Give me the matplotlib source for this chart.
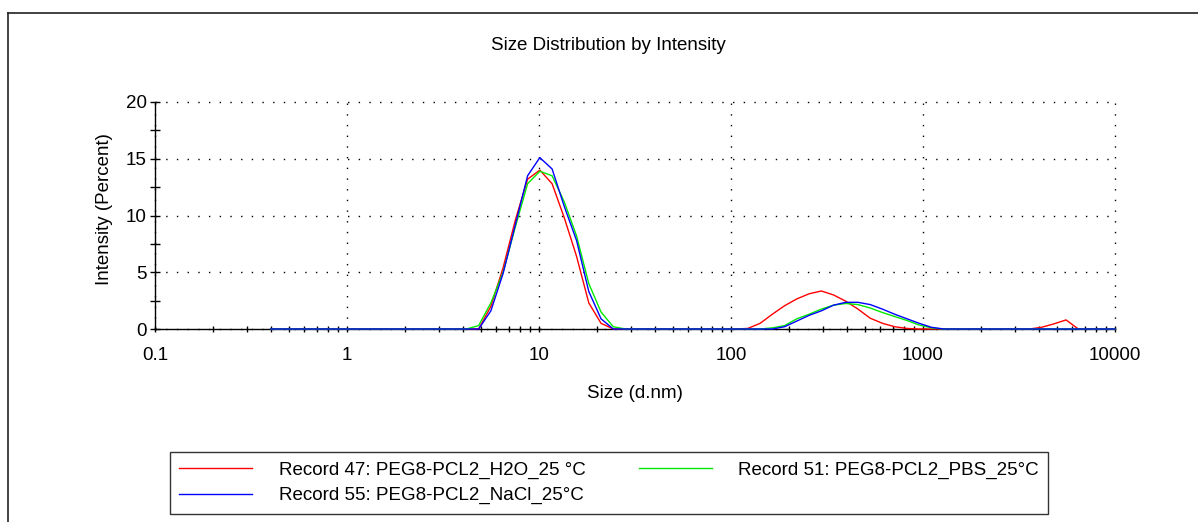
import matplotlib
matplotlib.use("Agg")
import matplotlib.pyplot as plt
from matplotlib.lines import Line2D
from matplotlib.ticker import FixedLocator, FixedFormatter, NullFormatter

plt.rcParams['font.family'] = ['Liberation Sans', 'DejaVu Sans']

# ---- data ----
sizes = [0.4, 0.4632, 0.5365, 0.6213, 0.7195, 0.8332, 0.9649, 1.117, 1.294, 1.499,
         1.736, 2.01, 2.328, 2.696, 3.122, 3.615, 4.187, 4.849, 5.615, 6.503,
         7.531, 8.721, 10.1, 11.7, 13.54, 15.69, 18.17, 21.04, 24.36, 28.21,
         32.67, 37.84, 43.82, 50.75, 58.77, 68.06, 78.82, 91.28, 105.7, 122.4,
         141.8, 164.2, 190.1, 220.2, 255.0, 295.3, 342.0, 396.1, 458.7, 531.2,
         615.1, 712.4, 825.0, 955.4, 1106, 1281, 1484, 1718, 1990, 2305,
         2669, 3091, 3580, 4145, 4801, 5560, 6439, 7456, 8635, 10000]

h2o = [0, 0, 0, 0, 0, 0, 0, 0, 0, 0,
       0, 0, 0, 0, 0, 0, 0, 0, 2.0, 5.4,
       9.6, 13.2, 14.0, 12.8, 9.8, 6.4, 2.3, 0.5, 0, 0,
       0, 0, 0, 0, 0, 0, 0, 0, 0, 0.05,
       0.5, 1.3, 2.05, 2.65, 3.1, 3.35, 3.0, 2.45, 1.75, 0.95,
       0.5, 0.2, 0.05, 0, 0, 0, 0, 0, 0, 0,
       0, 0, 0, 0.15, 0.45, 0.8, 0, 0, 0, 0]

pbs = [0, 0, 0, 0, 0, 0, 0, 0, 0, 0,
       0, 0, 0, 0, 0, 0, 0, 0.3, 2.3, 5.0,
       9.0, 12.8, 13.9, 13.5, 11.2, 8.2, 4.0, 1.5, 0.2, 0,
       0, 0, 0, 0, 0, 0, 0, 0, 0, 0,
       0, 0.1, 0.3, 0.9, 1.3, 1.75, 2.1, 2.25, 2.15, 1.85,
       1.45, 1.1, 0.75, 0.35, 0.1, 0, 0, 0, 0, 0,
       0, 0, 0, 0, 0, 0, 0, 0, 0, 0]

nacl = [0, 0, 0, 0, 0, 0, 0, 0, 0, 0,
        0, 0, 0, 0, 0, 0, 0, 0, 1.6, 4.9,
        9.2, 13.5, 15.1, 14.1, 10.8, 7.8, 3.3, 0.9, 0, 0,
        0, 0, 0, 0, 0, 0, 0, 0, 0, 0,
        0, 0, 0.2, 0.7, 1.2, 1.6, 2.1, 2.35, 2.35, 2.15,
        1.75, 1.3, 0.9, 0.5, 0.15, 0, 0, 0, 0, 0,
        0, 0, 0, 0, 0, 0, 0, 0, 0, 0]

labels = ["Record 47: PEG8-PCL2_H2O_25 °C",
          "Record 51: PEG8-PCL2_PBS_25°C",
          "Record 55: PEG8-PCL2_NaCl_25°C"]

xticks = [0.1, 1, 10, 100, 1000, 10000]
xticklabels = ["0.1", "1", "10", "100", "1000", "10000"]
yticks = [0, 5, 10, 15, 20]

# ---- figure ----
W, H = 1198, 522
fig = plt.figure(figsize=(W / 100, H / 100), dpi=100)
ax = fig.add_axes([155 / W, 1 - 329 / H, 960 / W, 227 / H])

l1, = ax.plot(sizes, h2o, color='#ff0000', lw=1.0, label=labels[0], zorder=3, clip_on=False)
l2, = ax.plot(sizes, pbs, color='#00ea00', lw=1.0, label=labels[1], zorder=3, clip_on=False)
l3, = ax.plot(sizes, nacl, color='#0000ff', lw=1.0, label=labels[2], zorder=3, clip_on=False)

ax.set_xscale('log')
ax.set_xlim(0.1, 10000)
ax.set_ylim(0, 20)

ax.xaxis.set_major_locator(FixedLocator(xticks))
ax.xaxis.set_major_formatter(FixedFormatter(xticklabels))
minor_x = [m * 10.0 ** e for e in range(-1, 4) for m in range(2, 10)]
ax.xaxis.set_minor_locator(FixedLocator(minor_x))
ax.xaxis.set_minor_formatter(NullFormatter())
ax.yaxis.set_major_locator(FixedLocator(yticks))
ax.yaxis.set_minor_locator(FixedLocator([2.5, 7.5, 12.5, 17.5]))

ax.tick_params(axis='x', which='both', direction='inout', length=4.5, width=1.0,
               labelsize=13.5, pad=11)
ax.tick_params(axis='y', which='both', direction='inout', length=7, width=1.0,
               labelsize=13.5, pad=2.5)

for side in ['top', 'right']:
    ax.spines[side].set_visible(False)
for side in ['left', 'bottom']:
    ax.spines[side].set_linewidth(1.0)

ax.grid(True, which='major', color='black', linestyle=(0, (1, 6.7)), linewidth=1.0)
ax.set_axisbelow(True)
for gl in ax.get_xgridlines() + ax.get_ygridlines():
    gl.set_clip_on(False)

ax.set_xlabel("Size (d.nm)", fontsize=13.5, labelpad=15)
ax.set_ylabel("Intensity (Percent)", fontsize=13.5)
ax.yaxis.set_label_coords(-0.044, 0.53)

fig.text(608 / W, 1 - 45 / H, "Size Distribution by Intensity", ha='center', va='center',
         fontsize=13.5)

leg = fig.legend([l1, l3, l2], [labels[0], labels[2], labels[1]], ncol=2,
                 loc='upper left', bbox_to_anchor=(170 / W, 0, 878 / W, 1 - 452 / H),
                 mode='expand', fontsize=13.5, frameon=True, fancybox=False,
                 edgecolor='black', handlelength=3.9, handletextpad=1.4,
                 borderpad=0.5, labelspacing=0.45, borderaxespad=0)
leg.get_frame().set_linewidth(1.0)

# outer border
fig.add_artist(Line2D([8 / W, 8 / W], [0, 1 - 13 / H], transform=fig.transFigure,
                      color='#222222', lw=1.2))
fig.add_artist(Line2D([8 / W, 1], [1 - 13 / H, 1 - 13 / H], transform=fig.transFigure,
                      color='#222222', lw=1.2))

fig.savefig("out.png", dpi=100)
